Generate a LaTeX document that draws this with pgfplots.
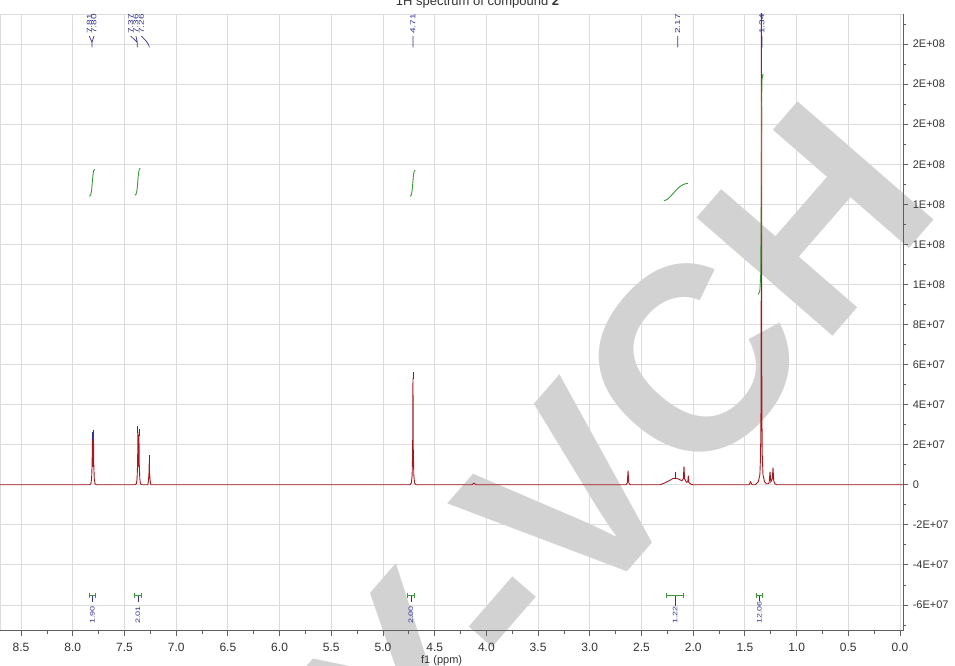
\documentclass[border=0pt]{standalone}
\usepackage{fontspec}
\setmainfont{Liberation Sans}
\usepackage{pgfplots}
\pgfplotsset{compat=1.18}
\definecolor{specred}{RGB}{165,25,30}
\definecolor{intgreen}{RGB}{60,150,60}
\definecolor{labelblue}{RGB}{50,50,150}
\definecolor{gridgray}{RGB}{220,220,220}
\definecolor{axisgray}{RGB}{95,95,95}
\definecolor{wmgray}{RGB}{210,210,210}
\newcommand{\pl}[1]{\scalebox{1}[0.72]{#1}}
\begin{document}
\begin{tikzpicture}
\path[use as bounding box] (0pt,-35.3pt) rectangle (955pt,630.7pt);
% grid layer
\begin{axis}[
  at={(0pt,0pt)}, anchor=south west,
  width=903.3pt, height=616.7pt, scale only axis,
  x dir=reverse, xmin=-0.032, xmax=8.704,
  ymin=-7.285, ymax=23.5,
  xtick={0,0.5,1,1.5,2,2.5,3,3.5,4,4.5,5,5.5,6,6.5,7,7.5,8,8.5},
  ytick={-6,-4,-2,0,2,4,6,8,10,12,14,16,18,20,22},
  xticklabels={}, yticklabels={},
  major tick length=0pt, minor tick length=0pt,
  grid=major, major grid style={gridgray, line width=0.8pt},
  axis line style={gridgray, line width=0.8pt},
]
\end{axis}
% watermark
\node[rotate=49, text=wmgray, inner sep=0pt,
      font=\bfseries\fontsize{262}{262}\selectfont] at (400pt,-66pt) {WILEY-VCH};
% data layer
\begin{axis}[
  at={(0pt,0pt)}, anchor=south west,
  width=903.3pt, height=616.7pt, scale only axis,
  x dir=reverse, xmin=-0.032, xmax=8.704,
  ymin=-7.285, ymax=23.5,
  axis x line*=bottom, axis y line*=right,
  axis line style={draw=axisgray, line width=0.9pt},
  xtick={0,0.5,1,1.5,2,2.5,3,3.5,4,4.5,5,5.5,6,6.5,7,7.5,8,8.5},
  xticklabels={0.0,0.5,1.0,1.5,2.0,2.5,3.0,3.5,4.0,4.5,5.0,5.5,6.0,6.5,7.0,7.5,8.0,8.5},
  minor xtick={0.25,0.75,1.25,1.75,2.25,2.75,3.25,3.75,4.25,4.75,5.25,5.75,6.25,6.75,7.25,7.75,8.25},
  ytick={-6,-4,-2,0,2,4,6,8,10,12,14,16,18,20,22},
  yticklabels={-6E+07,-4E+07,-2E+07,0,2E+07,4E+07,6E+07,8E+07,1E+08,1E+08,1E+08,2E+08,2E+08,2E+08,2E+08},
  minor ytick={-7,-5,-3,-1,1,3,5,7,9,11,13,15,17,19,21,23},
  tick align=outside,
  major tick length=5pt, minor tick length=3pt,
  tick style={axisgray, line width=0.8pt},
  xticklabel style={font=\fontsize{12}{12}\selectfont, text=black!80, yshift=-4pt},
  yticklabel style={font=\fontsize{11}{11}\selectfont, text=black!80, xshift=1pt},
  xlabel={f1 (ppm)},
  xlabel style={font=\fontsize{11}{11}\selectfont, text=black!80, xshift=-10pt, yshift=3pt},
  unbounded coords=jump,
]
% spectrum
\addplot[specred, line width=0.9pt] coordinates {
(8.704,0) (7.84,0) (7.825,0.05) (7.818,0.3) (7.813,1.0) (7.810,2.35) (7.807,1.1)
(7.805,0.9) (7.803,1.2) (7.800,2.45) (7.797,1.0) (7.792,0.3) (7.785,0.05) (7.77,0)
(7.40,0) (7.385,0.05) (7.378,0.3) (7.373,1.1) (7.370,2.65) (7.367,1.2) (7.365,0.9)
(7.363,1.2) (7.360,2.5) (7.357,1.0) (7.352,0.3) (7.345,0.05) (7.33,0)
(7.275,0) (7.268,0.2) (7.263,0.6) (7.260,1.2) (7.257,0.6) (7.252,0.2) (7.245,0)
(4.74,0) (4.725,0.1) (4.718,0.5) (4.713,1.8) (4.710,5.35) (4.707,1.8) (4.702,0.5) (4.695,0.1) (4.68,0)
(4.14,0) (4.12,0.08) (4.10,0)
(2.65,0) (2.637,0.1) (2.630,0.7) (2.623,0.1) (2.61,0)
(2.32,0) (2.28,0.08) (2.24,0.18) (2.20,0.3) (2.17,0.33) (2.14,0.28) (2.11,0.2)
(2.095,0.3) (2.089,0.92) (2.083,0.3) (2.065,0.12) (2.052,0.15) (2.047,0.45) (2.042,0.12) (2.02,0.02) (2.00,0)
(1.46,0) (1.445,0.15) (1.43,0)
(1.40,0) (1.37,0.15) (1.355,0.5) (1.348,1.5) (1.344,4) (1.342,10) (1.340,30) (1.338,10)
(1.336,4) (1.332,1.5) (1.325,0.5) (1.31,0.15) (1.29,0.05)
(1.272,0.05) (1.265,0.12) (1.257,0.65) (1.249,0.15) (1.243,0.2) (1.235,0.3) (1.228,0.85)
(1.221,0.2) (1.21,0.05) (1.19,0) (-0.032,0)
};
% integral curves
\addplot[intgreen, line width=0.9pt, smooth] coordinates {(7.838,14.4) (7.828,14.45) (7.818,14.7) (7.812,15.05) (7.806,15.4) (7.798,15.68) (7.788,15.75)};
\addplot[intgreen, line width=0.9pt, smooth] coordinates {(7.398,14.45) (7.388,14.5) (7.378,14.75) (7.372,15.1) (7.366,15.45) (7.358,15.72) (7.348,15.8)};
\addplot[intgreen, line width=0.9pt, smooth] coordinates {(4.738,14.4) (4.728,14.45) (4.718,14.7) (4.712,15.05) (4.706,15.4) (4.698,15.65) (4.688,15.7)};
\addplot[intgreen, line width=0.9pt, smooth] coordinates {(2.28,14.18) (2.25,14.25) (2.21,14.45) (2.17,14.68) (2.13,14.88) (2.09,15.0) (2.05,15.05)};
\addplot[intgreen, line width=0.9pt] coordinates {(1.37,9.5) (1.355,9.7) (1.347,10.5) (1.343,13) (1.340,16.5) (1.337,19.5) (1.334,20.25) (1.328,20.45) (1.322,20.5)};
% peak markers
\addplot[labelblue, line width=0.9pt] coordinates {
(7.810,2.3) (7.810,2.65) (nan,nan) (7.800,2.4) (7.800,2.75) (nan,nan)
(7.370,2.6) (7.370,2.95) (nan,nan) (7.360,2.45) (7.360,2.8) (nan,nan)
(7.260,1.15) (7.260,1.5) (nan,nan) (4.710,5.3) (4.710,5.65) (nan,nan)
(2.17,0.3) (2.17,0.65)};
% peak label connectors
\addplot[labelblue, line width=0.7pt] coordinates {
(7.840,22.4) (7.815,22.085) (7.815,21.835) (nan,nan) (7.795,22.4) (7.815,22.085) (nan,nan)
(7.440,22.4) (7.376,22.085) (7.376,21.835) (nan,nan) (7.389,22.4) (7.376,22.085) (nan,nan)
(7.337,22.4) (7.29,22.15) (7.265,21.95) (7.26,21.835) (nan,nan)
(4.71,22.4) (4.71,21.835) (nan,nan) (2.15,22.4) (2.15,21.835) (nan,nan) (1.335,22.4) (1.335,21.835)};
% integral brackets
\addplot[intgreen, line width=0.8pt] coordinates {
(7.84,-5.54) (7.78,-5.54) (nan,nan) (7.84,-5.41) (7.84,-5.67) (nan,nan) (7.78,-5.41) (7.78,-5.67) (nan,nan)
(7.40,-5.54) (7.34,-5.54) (nan,nan) (7.40,-5.41) (7.40,-5.67) (nan,nan) (7.34,-5.41) (7.34,-5.67) (nan,nan)
(4.76,-5.54) (4.70,-5.54) (nan,nan) (4.76,-5.41) (4.76,-5.67) (nan,nan) (4.70,-5.41) (4.70,-5.67) (nan,nan)
(2.256,-5.54) (2.096,-5.54) (nan,nan) (2.256,-5.41) (2.256,-5.67) (nan,nan) (2.096,-5.41) (2.096,-5.67) (nan,nan)
(1.385,-5.54) (1.335,-5.54) (nan,nan) (1.385,-5.41) (1.385,-5.67) (nan,nan) (1.335,-5.41) (1.335,-5.67)};
\addplot[labelblue, line width=0.7pt] coordinates {
(7.81,-5.54) (7.81,-5.85) (nan,nan) (7.37,-5.54) (7.37,-5.85) (nan,nan) (4.73,-5.54) (4.73,-5.85) (nan,nan)
(2.176,-5.54) (2.176,-6.05) (nan,nan) (1.36,-5.54) (1.36,-5.8)};
% peak labels
\begin{scope}[every node/.style={rotate=90, anchor=west, inner sep=0pt, text=labelblue, font=\fontsize{10}{10}\selectfont}]
\node at (axis cs:7.840,22.5) {\pl{7.81}};
\node at (axis cs:7.795,22.5) {\pl{7.80}};
\node at (axis cs:7.440,22.5) {\pl{7.37}};
\node at (axis cs:7.389,22.5) {\pl{7.36}};
\node at (axis cs:7.337,22.5) {\pl{7.26}};
\node at (axis cs:4.71,22.5) {\pl{4.71}};
\node at (axis cs:2.15,22.5) {\pl{2.17}};
\node at (axis cs:1.335,22.5) {\pl{1.34}};
\node[font=\fontsize{9}{9}\selectfont] at (axis cs:7.81,-6.95) {\pl{1.90}};
\node[font=\fontsize{9}{9}\selectfont] at (axis cs:7.37,-6.95) {\pl{2.01}};
\node[font=\fontsize{9}{9}\selectfont] at (axis cs:4.73,-6.95) {\pl{2.00}};
\node[font=\fontsize{9}{9}\selectfont] at (axis cs:2.176,-6.95) {\pl{1.22}};
\node[font=\fontsize{9}{9}\selectfont] at (axis cs:1.36,-6.95) {\pl{12.06}};
\end{scope}
\end{axis}
\node[anchor=base, font=\fontsize{13}{13}\selectfont, text=black!80] at (477.5pt,625.2pt) {1H spectrum of compound \textbf{2}};
\end{tikzpicture}
\end{document}
